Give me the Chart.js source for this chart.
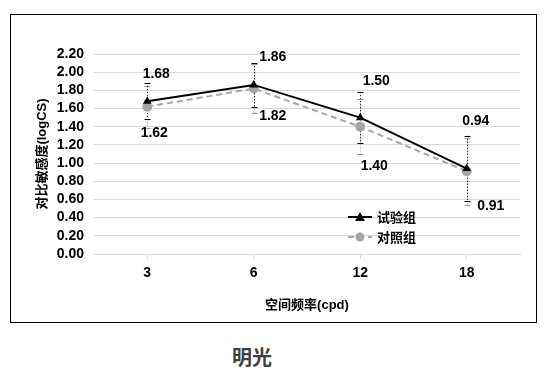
<!DOCTYPE html>
<html>
<head>
<meta charset="utf-8">
<script src="https://cdn.jsdelivr.net/npm/chart.js@4/dist/chart.umd.min.js"></script>
<style>
  body { margin: 0; background: #fff; width: 548px; height: 377px; position: relative; overflow: hidden; }
  #frame { position: absolute; left: 10px; top: 14px; width: 525px; height: 307px; border: 1px solid #000; }
  #title { position: absolute; left: 0; width: 504px; top: 342px; text-align: center;
    font: bold 20px "Noto Sans CJK SC", sans-serif; color: #404040; }
</style>
</head>
<body>
<div id="frame"><canvas id="c" width="525" height="307"></canvas></div>
<div id="title">明光</div>
<script>
// spatial frequency (cpd)
const categories = ["3", "6", "12", "18"]
const testValues = [1.68, 1.86, 1.50, 0.94]      // 试验组
const controlValues = [1.62, 1.82, 1.40, 0.91]   // 对照组
const testErrors = [0.20, 0.24, 0.28, 0.36]
const controlErrors = [0.23, 0.27, 0.30, 0.37]
const yTicks = [0, 0.2, 0.4, 0.6, 0.8, 1.0, 1.2, 1.4, 1.6, 1.8, 2.0, 2.2]

const FONT = "'Liberation Sans', 'Noto Sans CJK SC', sans-serif"

// manual label placement, like the excel original (dx, dy from the point)
const labelOffsets = [
  [[9, -27], [19, -28], [16, -36], [9, -47]],
  [[7, 26], [19, 28], [14, 39], [24, 35]],
]

const errorBars = {
  id: "errorBars",
  beforeDatasetsDraw(chart) {
    const ctx = chart.ctx
    const y = chart.scales.y
    const sets = [[controlErrors, "#999999", 1], [testErrors, "#000000", 0]]
    sets.forEach(([errs, color, di]) => {
      const meta = chart.getDatasetMeta(di)
      const vals = chart.data.datasets[di].data
      ctx.save()
      ctx.strokeStyle = color
      ctx.lineWidth = 1
      meta.data.forEach((pt, i) => {
        const x = Math.round(pt.x) + 0.5
        const top = y.getPixelForValue(vals[i] + errs[i])
        const bot = y.getPixelForValue(vals[i] - errs[i])
        ctx.setLineDash([1, 2])
        ctx.beginPath()
        ctx.moveTo(x, top)
        ctx.lineTo(x, bot)
        ctx.stroke()
        ctx.setLineDash([])
        ctx.beginPath()
        ctx.moveTo(x - 3, Math.round(top) + 0.5)
        ctx.lineTo(x + 3, Math.round(top) + 0.5)
        ctx.moveTo(x - 3, Math.round(bot) + 0.5)
        ctx.lineTo(x + 3, Math.round(bot) + 0.5)
        ctx.stroke()
      })
      ctx.restore()
    })
  },
  afterDatasetsDraw(chart) {
    const ctx = chart.ctx
    ctx.save()
    ctx.font = "bold 14px " + FONT
    ctx.fillStyle = "#000"
    ctx.textAlign = "center"
    ctx.textBaseline = "middle"
    chart.data.datasets.forEach((ds, di) => {
      chart.getDatasetMeta(di).data.forEach((pt, i) => {
        const [dx, dy] = labelOffsets[di][i]
        ctx.fillText(ds.data[i].toFixed(2), pt.x + dx, pt.y + dy)
      })
    })
    // legend
    const lx = 337, ly = [202, 222]
    chart.data.datasets.forEach((ds, di) => {
      ctx.strokeStyle = ds.borderColor
      ctx.lineWidth = 2
      ctx.setLineDash(ds.borderDash || [])
      ctx.beginPath()
      ctx.moveTo(lx, ly[di])
      ctx.lineTo(lx + 24, ly[di])
      ctx.stroke()
      ctx.setLineDash([])
      ctx.fillStyle = ds.pointBackgroundColor
      ctx.beginPath()
      if (ds.pointStyle === "triangle") {
        ctx.moveTo(lx + 12, ly[di] - 5)
        ctx.lineTo(lx + 17, ly[di] + 4)
        ctx.lineTo(lx + 7, ly[di] + 4)
        ctx.closePath()
      } else {
        ctx.arc(lx + 12, ly[di], 4.5, 0, Math.PI * 2)
      }
      ctx.fill()
      ctx.fillStyle = "#000"
      ctx.textAlign = "left"
      ctx.font = "bold 13px " + FONT
      ctx.fillText(ds.label, lx + 29, ly[di] + 1)
    })
    ctx.restore()
  },
}

new Chart(document.getElementById("c"), {
  type: "line",
  data: {
    labels: categories,
    datasets: [
      {
        label: "试验组",
        data: testValues,
        borderColor: "#000000",
        backgroundColor: "#000000",
        pointBackgroundColor: "#000000",
        borderWidth: 2,
        pointStyle: "triangle",
        pointRadius: 5,
        pointBorderWidth: 0,
      },
      {
        label: "对照组",
        data: controlValues,
        borderColor: "#a6a6a6",
        backgroundColor: "#a6a6a6",
        pointBackgroundColor: "#a6a6a6",
        borderWidth: 2,
        borderDash: [6, 4],
        pointStyle: "circle",
        pointRadius: 5,
        pointBorderWidth: 0,
      },
    ],
  },
  options: {
    responsive: false,
    animation: false,
    layout: { padding: { top: 39, right: 16, left: 24, bottom: 0 } },
    plugins: { legend: { display: false }, tooltip: { enabled: false } },
    scales: {
      x: {
        offset: true,
        afterFit: (s) => { s.height = 68 },
        grid: { drawOnChartArea: false, drawTicks: true, tickLength: 5, color: "#d9d9d9" },
        border: { color: "#d9d9d9" },
        ticks: { color: "#000", font: { family: FONT, size: 14, weight: "bold" }, padding: 6 },
        title: {
          display: true,
          text: "空间频率(cpd)",
          color: "#000",
          font: { family: FONT, size: 13, weight: "bold" },
          padding: { top: 0, bottom: 9 },
        },
      },
      y: {
        min: 0,
        max: 2.2,
        afterFit: (s) => { s.width = 59 },
        afterBuildTicks: (s) => { s.ticks = yTicks.map((v) => ({ value: v })) },
        grid: { color: "#d9d9d9", drawTicks: false },
        border: { display: false },
        ticks: {
          color: "#000",
          autoSkip: false,
          font: { family: FONT, size: 14, weight: "bold" },
          padding: 10,
          callback: (v) => v.toFixed(2),
        },
        title: {
          display: true,
          text: "对比敏感度(logCS)",
          color: "#000",
          font: { family: FONT, size: 13, weight: "bold" },
          padding: { top: 0, bottom: 0 },
        },
      },
    },
  },
  plugins: [errorBars],
})
</script>
</body>
</html>
